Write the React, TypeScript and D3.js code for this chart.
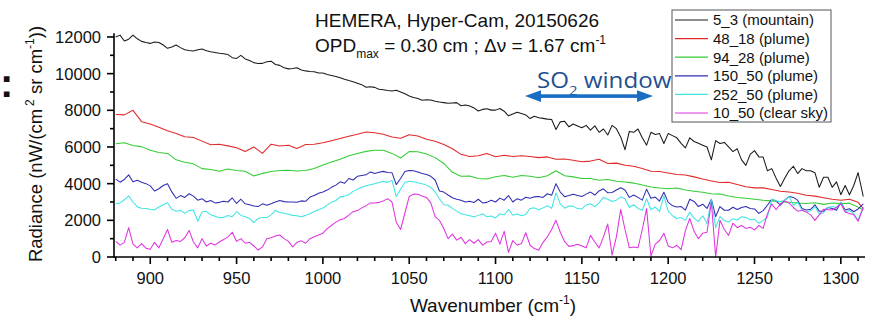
import React from 'react';
import * as d3 from 'd3';

// Coarse wavenumber grid (cm^-1), used for the smoother plume series
const wavenumbers: number[] = [
  880, 885, 890, 895, 900, 905, 910, 915, 920, 925, 930, 935, 940, 945, 950, 955, 960, 965, 970, 975, 980, 985,
  990, 995, 1000, 1005, 1010, 1015, 1020, 1025, 1030, 1035, 1040, 1045, 1050, 1055, 1060, 1065, 1070, 1075, 1080, 1085, 1090, 1095,
  1100, 1105, 1110, 1115, 1120, 1125, 1130, 1135, 1140, 1145, 1150, 1155, 1160, 1165, 1170, 1175, 1180, 1185, 1190, 1195, 1200, 1205,
  1210, 1215, 1220, 1225, 1230, 1235, 1240, 1245, 1250, 1255, 1260, 1265, 1270, 1275, 1280, 1285, 1290, 1295, 1300, 1305, 1310, 1313,
];

// Fine wavenumber grid (cm^-1), used for the noisier series
const wavenumbersFine: number[] = [
  880, 882.5, 885, 887.5, 890, 892.5, 895, 897.5, 900, 902.5, 905, 907.5, 910, 912.5, 915, 917.5, 920, 922.5, 925, 927.5,
  930, 932.5, 935, 937.5, 940, 942.5, 945, 947.5, 950, 952.5, 955, 957.5, 960, 962.5, 965, 967.5, 970, 972.5, 975, 977.5,
  980, 982.5, 985, 987.5,
  990, 992.5, 995, 997.5, 1000, 1002.5, 1005, 1007.5, 1010, 1012.5, 1015, 1017.5, 1020, 1022.5, 1025, 1027.5, 1030, 1032.5, 1035, 1037.5,
  1040, 1042.5, 1045, 1047.5, 1050, 1052.5, 1055, 1057.5, 1060, 1062.5, 1065, 1067.5, 1070, 1072.5, 1075, 1077.5, 1080, 1082.5, 1085, 1087.5,
  1090, 1092.5, 1095, 1097.5,
  1100, 1102.5, 1105, 1107.5, 1110, 1112.5, 1115, 1117.5, 1120, 1122.5, 1125, 1127.5, 1130, 1132.5, 1135, 1137.5, 1140, 1142.5, 1145, 1147.5,
  1150, 1152.5, 1155, 1157.5, 1160, 1162.5, 1165, 1167.5, 1170, 1172.5, 1175, 1177.5, 1180, 1182.5, 1185, 1187.5, 1190, 1192.5, 1195, 1197.5,
  1200, 1202.5, 1205, 1207.5,
  1210, 1212.5, 1215, 1217.5, 1220, 1222.5, 1225, 1227.5, 1230, 1232.5, 1235, 1237.5, 1240, 1242.5, 1245, 1247.5, 1250, 1252.5, 1255, 1257.5,
  1260, 1262.5, 1265, 1267.5, 1270, 1272.5, 1275, 1277.5, 1280, 1282.5, 1285, 1287.5, 1290, 1292.5, 1295, 1297.5, 1300, 1302.5, 1305, 1307.5,
  1310, 1313,
];

// Radiance series, nW/(cm2 sr cm-1)
const mountain_5_3: number[] = [
  12000, 12100, 11780, 11880, 12100, 11900, 11760, 11700, 11650, 11720, 11700, 11560, 11380, 11450, 11560, 11420, 11300, 11260, 11230, 11300,
  11340, 11250, 11190, 11150, 11110, 11080, 11040, 10870, 10830, 11000, 10800, 10720, 10600, 10550, 10560, 10650, 10680, 10500, 10450, 10320,
  10260, 10280, 10320, 10200,
  10150, 10120, 10100, 10030, 10030, 9950, 9900, 9850, 9770, 9690, 9620, 9560, 9480, 9400, 9260, 9290, 9250, 9150, 9120, 9080,
  9050, 9100, 9000, 8900, 8780, 8700, 8640, 8550, 8580, 8560, 8500, 8450, 8420, 8380, 8400, 8420, 8250, 8290, 8230, 8130,
  7960, 8050, 8080, 8010,
  8010, 8100, 7950, 7700, 7800, 7900, 7820, 7750, 7550, 7680, 7600, 7560, 7520, 7500, 6950, 7370, 7400, 7100, 7250, 7150,
  7050, 7180, 6920, 7150, 6800, 6980, 6650, 7180, 7000, 6550, 5850, 6850, 6800, 6980, 6500, 6100, 6800, 6680, 6730, 6190,
  6730, 6620, 6500, 6200,
  5950, 6500, 6300, 6200, 6100, 6000, 5300, 6350, 6190, 6250, 6000, 5750, 5900, 5300, 5000, 5600, 5800, 5460, 5450, 4700,
  4820, 4300, 3850, 4300, 4700, 4950, 4550, 4820, 4700, 4700, 4600, 3800, 4350, 4350, 3800, 4100, 3400, 3900, 3400, 3900,
  4600, 3300,
];
const plume_48_18: number[] = [
  7770, 7750, 8000, 7380, 7250, 7080, 6880, 6740, 6560, 6520, 6320, 6120, 6150, 6060, 5960, 5750, 6000, 5650, 6150, 6050, 6100, 5920,
  6130, 6150, 6230, 6340, 6460, 6580, 6700, 6820, 6780, 6690, 6550, 6480, 6670, 6600, 6420, 6310, 6140, 5900, 5600, 5480, 5520, 5640,
  5470, 5550, 5480, 5520, 5480, 5420, 5460, 5330, 5350, 5280, 5200, 5230, 5330, 5100, 5120, 5000, 4950, 4830, 4680, 4660, 4580, 4500,
  4470, 4370, 4250, 4150, 4060, 4080, 3960, 3830, 3770, 3770, 3680, 3590, 3540, 3480, 3370, 3320, 3230, 3150, 3090, 3150, 2980, 2640,
];
const plume_94_28: number[] = [
  6180, 6230, 6080, 6020, 5820, 5700, 5650, 5300, 5170, 5080, 4820, 4770, 4680, 4800, 4720, 4680, 4420, 4560, 4660, 4720, 4730, 4690,
  4720, 4830, 5020, 5180, 5330, 5520, 5650, 5760, 5820, 5820, 5650, 5400, 5750, 5740, 5620, 5420, 5100, 4620, 4400, 4420, 4280, 4250,
  4380, 4450, 4350, 4450, 4400, 4320, 4430, 4700, 4430, 4370, 4280, 4280, 4190, 4230, 4130, 4090, 4030, 3930, 3820, 3760, 3720, 3760,
  3650, 3590, 3530, 3450, 3430, 3330, 3250, 3200, 3150, 3090, 3060, 3010, 2990, 2940, 2920, 2960, 2870, 2940, 2910, 2930, 2720, 2560,
];
const plume_150_50: number[] = [
  4250, 4080, 4230, 4480, 4100, 4180, 4080, 4000, 3880, 3600, 3720, 3900, 4000, 3550, 3200, 3350, 3250, 3450, 3320, 3100,
  3180, 3000, 3080, 2950, 2980, 3040, 3000, 3220, 2920, 3150, 2900, 2850, 2780, 2750, 2900, 2820, 2900, 3000, 3080, 3020,
  3000, 3000, 2990, 3060,
  3040, 3270, 3350, 3480, 3550, 3650, 3800, 3920, 4100, 4020, 4280, 4200, 4400, 4440, 4480, 4640, 4560, 4620, 4670, 4610,
  4600, 3950, 4280, 4660, 4720, 4700, 4630, 4550, 4500, 4400, 4200, 3600, 3540, 3380, 3230, 3150, 3090, 3000, 3040, 2970,
  3150, 2950, 2980, 3100,
  3000, 3210, 3100, 3350, 3000, 3180, 3100, 3260, 3200, 3280, 3300, 3250, 3450, 3370, 4000, 3540, 3290, 3350, 3420, 3360,
  3300, 3430, 3540, 3380, 3600, 3720, 3500, 3520, 3650, 3780, 3650, 3250, 3380, 3250, 3100, 3700, 3200, 3270, 3050, 3530,
  2980, 2800, 2730, 2750,
  2560, 3150, 3030, 2750, 2880, 2650, 3150, 2200, 2750, 2550, 2550, 2710, 2590, 2700, 2750, 2640, 2620, 2380, 2530, 2820,
  3150, 3050, 2830, 3100, 3300, 3250, 3100, 2640, 2560, 2600, 2850, 2500, 2500, 2700, 2650, 2550, 2980, 2560, 2630, 2470,
  2620, 2900,
];
const plume_252_50: number[] = [
  2900, 2950, 3120, 3330, 3000, 2730, 2660, 2640, 2600, 2570, 2730, 2850, 2960, 2600, 2500, 2540, 2380, 2530, 2560, 1950,
  2450, 2490, 2300, 2220, 2140, 2160, 2260, 2200, 2480, 2270, 2190, 2100, 1870, 2100, 2150, 2150, 2300, 2540, 2430, 2380,
  2330, 2270, 2250, 2200,
  2270, 2360, 2480, 2580, 2670, 2830, 2990, 3080, 3280, 3320, 3400, 3580, 3700, 3800, 3890, 3940, 3990, 4060, 4130, 4070,
  4180, 3300, 3700, 4080, 4130, 4100, 4050, 4000, 3920, 3800, 3550, 3180, 2850, 2820, 2650, 2500, 2360, 2300, 2250, 2190,
  2270, 2360, 2190, 2240,
  2130, 2360, 2290, 2600, 2280, 2340, 2250, 2320, 2650, 2680, 2580, 2680, 2800, 2650, 3500, 2900, 2660, 2780, 2760, 2640,
  2620, 2840, 2910, 2740, 2950, 3250, 3150, 3030, 3100, 3280, 3180, 2700, 2850, 2650, 2550, 3180, 2580, 2730, 2480, 3330,
  2500, 2250, 2100, 2150,
  2000, 2450, 2120, 1930, 2250, 1830, 3150, 1600, 2200, 1990, 1910, 2080, 2020, 2200, 2150, 2030, 2070, 1830, 2000, 2180,
  3150, 3050, 3030, 3100, 3300, 2820, 2980, 2550, 2460, 2520, 2750, 2350, 2400, 2700, 2750, 2700, 2980, 2460, 2540, 2360,
  2020, 2700,
];
const clearsky_10_50: number[] = [
  850, 650, 800, 1600, 700, 500, 730, 480, 420, 800, 500, 1000, 1500, 800, 900, 850, 1050, 1450, 820, 500,
  1000, 600, 750, 650, 820, 950, 1100, 1350, 850, 1000, 750, 800, 600, 380, 550, 1000, 1050, 1150, 1200, 1000,
  850, 550, 800, 880,
  750, 1000, 1100, 1200, 1300, 1550, 1720, 1900, 2030, 2100, 2280, 2470, 2530, 2680, 2800, 2950, 2950, 2980, 3060, 3180,
  3000, 1900, 1500, 2400, 3300, 3430, 3420, 3330, 3250, 2950, 2200, 2000, 1550, 1000, 1250, 920, 1080, 730, 950, 750,
  950, 650, 820, 850,
  1300, 700, 1400, 250, 900, 640, 730, 1320, 640, 460, 370, 800, 1100, 1500, 2000, 1350, 850, 580, 620, 700,
  600, 500, 1180, 820, 500, 1100, 1800, 100, 1100, 2600, 1500, 500, 550, 500, 1500, 2640, 50, 700, 900, 1300,
  600, 500, 640, 400,
  1450, 2100, 1400, 1000, 1300, 1350, 3000, 0, 2000, 1500, 1180, 1850, 1600, 1720, 1560, 1620, 1480, 1720, 1560, 2350,
  2900, 2580, 2900, 3050, 2950, 2700, 2500, 2550, 2460, 2300, 2000, 2300, 2600, 2580, 2560, 2700, 2900, 2460, 2370, 2300,
  1950, 2700,
];

const seriesValues: number[][] = [mountain_5_3, plume_48_18, plume_94_28, plume_150_50, plume_252_50, clearsky_10_50];
const seriesGrids: number[][] = [wavenumbersFine, wavenumbers, wavenumbers, wavenumbersFine, wavenumbersFine, wavenumbersFine];
const seriesLabels: string[] = ['5_3 (mountain)', '48_18 (plume)', '94_28 (plume)', '150_50 (plume)', '252_50 (plume)', '10_50 (clear sky)'];
const seriesColors: string[] = ['#1a1a1a', '#e22a2a', '#35cc35', '#2e2eb4', '#40e4e4', '#e034e0'];

const xTickValues: number[] = [900, 950, 1000, 1050, 1100, 1150, 1200, 1250, 1300];
const xMinorTicks: number[] = [880, 890, 910, 920, 930, 940, 960, 970, 980, 990, 1010, 1020, 1030, 1040, 1060, 1070, 1080, 1090, 1110, 1120, 1130, 1140, 1160, 1170, 1180, 1190, 1210, 1220, 1230, 1240, 1260, 1270, 1280, 1290, 1310];
const yTickValues: number[] = [0, 2000, 4000, 6000, 8000, 10000, 12000];
const yMinorTicks: number[] = [1000, 3000, 5000, 7000, 9000, 11000];

const FONT = "'Liberation Sans', Arial, Helvetica, sans-serif";

export default function App() {
  const x = d3.scaleLinear().domain([879, 1314]).range([114, 865]);
  const y = d3.scaleLinear().domain([0, 12200]).range([257, 33.3]);

  const makePath = (vals: number[], grid: number[]) =>
    d3
      .line<number>()
      .x((_, i) => x(grid[i]))
      .y((d) => y(Math.max(0, d)))(vals) || '';

  const x0 = x.range()[0];
  const x1 = x.range()[1];
  const yBase = y(0);
  const yTop = y.range()[1];

  const legendX = 672;
  const legendY = 10;
  const legendW = 159;
  const legendH = 112;
  const rowH = 18.6;

  return (
    <svg
      width={878}
      height={326}
      viewBox="0 0 878 326"
      style={{ position: 'absolute', left: 0, top: 0, background: '#fff' }}
      fontFamily={FONT}
    >
      <rect x={0} y={0} width={878} height={326} fill="#fff" />

      {/* colon mark at far left */}
      <text x={0} y={97} fontSize={40} fontWeight="bold" fill="#111">:</text>

      {/* data lines */}
      <g fill="none" strokeWidth={1.05} strokeLinejoin="round">
        {seriesValues.map((vals, i) => (
          <path key={i} d={makePath(vals, seriesGrids[i])} stroke={seriesColors[i]} />
        ))}
      </g>

      {/* axes */}
      <g stroke="#000" strokeWidth={1.6}>
        <line x1={x0} y1={yBase} x2={x1} y2={yBase} />
        <line x1={x0} y1={yBase + 0.8} x2={x0} y2={yTop} />
        {xTickValues.map((t) => (
          <line key={'xt' + t} x1={x(t)} x2={x(t)} y1={yBase} y2={yBase + 7} />
        ))}
        {xMinorTicks.map((t) => (
          <line key={'xm' + t} x1={x(t)} x2={x(t)} y1={yBase} y2={yBase + 4} />
        ))}
        {yTickValues.map((t) => (
          <line key={'yt' + t} x1={x0} x2={x0 - 7} y1={y(t)} y2={y(t)} />
        ))}
        {yMinorTicks.map((t) => (
          <line key={'ym' + t} x1={x0} x2={x0 - 4} y1={y(t)} y2={y(t)} />
        ))}
      </g>

      {/* tick labels */}
      <g fontSize={16.5} fill="#111">
        {xTickValues.map((t) => (
          <text key={'xl' + t} x={x(t)} y={284} textAnchor="middle">{t}</text>
        ))}
        {yTickValues.map((t) => (
          <text key={'yl' + t} x={101} y={y(t)} dy="0.36em" textAnchor="end">{t}</text>
        ))}
      </g>

      {/* axis titles */}
      <text x={493} y={312} fontSize={19} textAnchor="middle" fill="#111">
        Wavenumber (cm<tspan fontSize={12} dy={-8}>-1</tspan><tspan dy={8}>)</tspan>
      </text>
      <text transform="translate(42,144) rotate(-90)" fontSize={18.5} textAnchor="middle" fill="#111">
        Radiance (nW/(cm<tspan fontSize={12} dy={-8} dx={3}>2</tspan><tspan dy={8}> sr cm</tspan><tspan fontSize={12} dy={-8}>-1</tspan><tspan dy={8}>))</tspan>
      </text>

      {/* annotation text */}
      <text x={315} y={27} fontSize={19} fill="#111">HEMERA, Hyper-Cam, 20150626</text>
      <text x={315} y={52} fontSize={19} fill="#111">
        OPD<tspan fontSize={12} dy={6}>max</tspan><tspan dy={-6}> = 0.30 cm ; Δν = 1.67 cm</tspan><tspan fontSize={12} dy={-8}>-1</tspan>
      </text>

      {/* SO2 window */}
      <text transform="translate(537,88) scale(1.15,1)" fontSize={21} fill="#1f4f8f" fontFamily="'Open Sans', 'Noto Sans', sans-serif">
        SO<tspan fontSize={13} dy={7}>2</tspan><tspan dy={-7}> window</tspan>
      </text>
      <g fill="#1a6ec2" stroke="none">
        <rect x={538} y={94.3} width={102} height={3.6} />
        <path d="M525,96.1 L541,90.3 L541,101.9 Z" />
        <path d="M653,96.1 L637,90.3 L637,101.9 Z" />
      </g>

      {/* legend */}
      <g>
        <rect x={legendX} y={legendY} width={legendW} height={legendH} fill="#fff" stroke="#555" strokeWidth={1} />
        {seriesLabels.map((lab, i) => {
          const cy = legendY + 10 + i * rowH;
          return (
            <g key={lab}>
              <line x1={legendX + 3} x2={legendX + 36} y1={cy} y2={cy} stroke={seriesColors[i]} strokeWidth={1.2} />
              <text x={legendX + 41} y={cy} dy="0.36em" fontSize={15} fill="#111">{lab}</text>
            </g>
          );
        })}
      </g>
    </svg>
  );
}
